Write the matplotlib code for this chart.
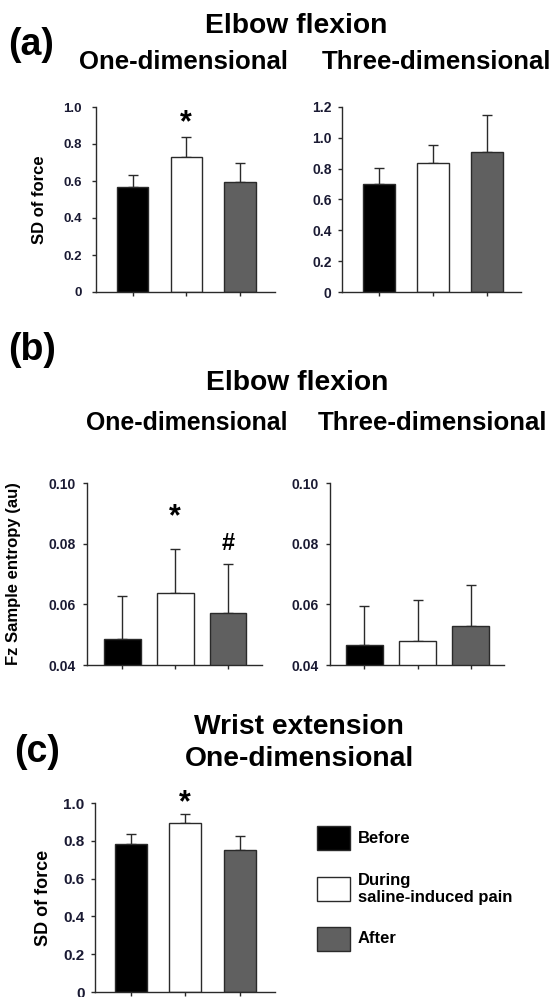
import matplotlib
matplotlib.use("Agg")
import matplotlib.pyplot as plt
from matplotlib.patches import Rectangle
from matplotlib.ticker import FuncFormatter

plt.rcParams['font.family'] = ['Liberation Sans', 'DejaVu Sans']
plt.rcParams['font.weight'] = 'bold'

# --- Data (means and upper SD) ---
conditions = ["Before", "During\nsaline-induced pain", "After"]
colors = ["#000000", "#ffffff", "#606060"]

a1_mean = [0.57, 0.73, 0.595]
a1_err = [0.06, 0.11, 0.10]
a2_mean = [0.70, 0.835, 0.91]
a2_err = [0.105, 0.12, 0.24]

b1_mean = [0.0485, 0.0639, 0.0573]
b1_err = [0.0143, 0.0145, 0.0161]
b2_mean = [0.0466, 0.0480, 0.0527]
b2_err = [0.0130, 0.0135, 0.0137]

c_mean = [0.784, 0.894, 0.749]
c_err = [0.053, 0.046, 0.074]

tick_color = "#1a1a33"
edge = "#2a2a2a"


def fmt(v, pos):
    if abs(v) < 1e-9:
        return "0"
    return f"{v:.1f}"


def bar_panel(rect, means, errs, ylim, yticks, xlim, width, tsize, pad, formatter):
    ax = fig.add_axes(rect)
    x = range(len(means))
    ax.bar(x, means, width=width, color=colors, edgecolor=edge, linewidth=1.0, zorder=2)
    ax.errorbar(x, means, yerr=[[0] * len(errs), errs], fmt="none", ecolor=edge,
                elinewidth=1.0, capsize=3.5, capthick=1.0, zorder=1)
    ax.set_ylim(*ylim)
    ax.set_xlim(*xlim)
    ax.set_yticks(yticks)
    ax.yaxis.set_major_formatter(formatter)
    ax.set_xticks(list(x))
    ax.set_xticklabels([])
    ax.spines["top"].set_visible(False)
    ax.spines["right"].set_visible(False)
    for s in ("left", "bottom"):
        ax.spines[s].set_linewidth(1.0)
        ax.spines[s].set_color(edge)
    ax.tick_params(axis="y", length=3, width=1, color=edge, labelsize=tsize,
                   labelcolor=tick_color, pad=pad)
    ax.tick_params(axis="x", length=3, width=1, color=edge, direction="out")
    for lab in ax.get_yticklabels():
        lab.set_fontweight("bold")
    return ax


W, H = 554, 997
fig = plt.figure(figsize=(W / 100, H / 100), dpi=100)


def r(x0, y_top, x1, y_bot):
    return [x0 / W, 1 - y_bot / H, (x1 - x0) / W, (y_bot - y_top) / H]


def ftext(x, y, s, size, **kw):
    fig.text(x / W, 1 - y / H, s, fontsize=size, fontweight="bold", **kw)


# --- (a) ---
ax = bar_panel(r(96, 107, 275, 292), a1_mean, a1_err, (0, 1.0), [0, 0.2, 0.4, 0.6, 0.8, 1.0],
               (-0.68, 2.65), 0.58, 9.5, 7, FuncFormatter(fmt))
ax.set_ylabel("SD of force", fontsize=12, fontweight="bold")
ax.yaxis.set_label_coords((47 - 96) / 179, 0.5)
ax.text(1, 0.91, "*", ha="center", va="center", fontsize=22, fontweight="bold")

ax = bar_panel(r(342, 107, 521, 292), a2_mean, a2_err, (0, 1.2), [0, 0.2, 0.4, 0.6, 0.8, 1.0, 1.2],
               (-0.685, 2.63), 0.6, 10, 4.5, FuncFormatter(fmt))

ftext(8, 45, "(a)", 27, va="center", ha="left")
ftext(296, 33, "Elbow flexion", 20.3, ha="center", va="baseline")
ftext(184, 69, "One-dimensional", 18.5, ha="center", va="baseline")
ftext(436, 69, "Three-dimensional", 18.6, ha="center", va="baseline")

# --- (b) ---
fmt2 = FuncFormatter(lambda v, p: f"{v:.2f}")
ax = bar_panel(r(87, 483, 262, 665), b1_mean, b1_err, (0.04, 0.10), [0.04, 0.06, 0.08, 0.10],
               (-0.673, 2.645), 0.70, 10, 5, fmt2)
ax.set_ylabel("Fz Sample entropy (au)", fontsize=12, fontweight="bold")
ax.yaxis.set_label_coords((21 - 87) / 175, 0.5)
ax.text(1, 0.0888, "*", ha="center", va="center", fontsize=22, fontweight="bold")
ax.text(2, 0.0800, "#", ha="center", va="center", fontsize=17, fontweight="bold")

ax = bar_panel(r(330, 483, 504, 665), b2_mean, b2_err, (0.04, 0.10), [0.04, 0.06, 0.08, 0.10],
               (-0.65, 2.63), 0.71, 10, 5, fmt2)

ftext(8, 350, "(b)", 27, va="center", ha="left")
ftext(297, 390, "Elbow flexion", 20.3, ha="center", va="baseline")
ftext(187, 430, "One-dimensional", 17.9, ha="center", va="baseline")
ftext(433, 430, "Three-dimensional", 18.6, ha="center", va="baseline")

# --- (c) ---
ax = bar_panel(r(95, 803, 275, 992), c_mean, c_err, (0, 1.0), [0, 0.2, 0.4, 0.6, 0.8, 1.0],
               (-0.66, 2.65), 0.59, 11, 4.5, FuncFormatter(fmt))
ax.set_ylabel("SD of force", fontsize=13, fontweight="bold")
ax.yaxis.set_label_coords((52 - 95) / 180, 0.5)
ax.text(1, 1.0, "*", ha="center", va="center", fontsize=22, fontweight="bold", clip_on=False)

ftext(14, 752, "(c)", 27, va="center", ha="left")
ftext(299, 734, "Wrist extension", 20.3, ha="center", va="baseline")
ftext(299, 766, "One-dimensional", 20.3, ha="center", va="baseline")

# --- legend ---
row_y = [838, 889, 938.5]
for c, lab, yc in zip(colors, conditions, row_y):
    fig.add_artist(Rectangle((317 / W, 1 - (yc + 12) / H), 33 / W, 24 / H,
                             transform=fig.transFigure, facecolor=c, edgecolor=edge, linewidth=1.0))
    ftext(358, yc, lab, 12, ha="left", va="center", linespacing=1.1)

fig.savefig("out.png", dpi=100)
